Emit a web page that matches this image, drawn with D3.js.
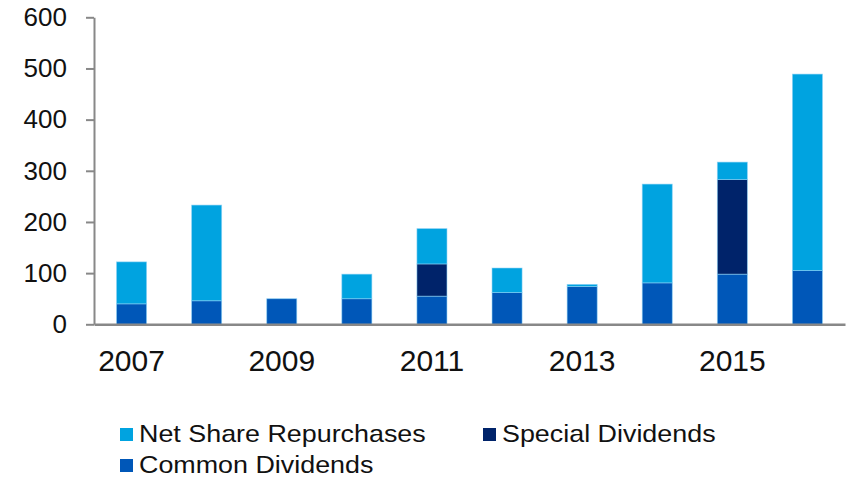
<!DOCTYPE html>
<html>
<head>
<meta charset="utf-8">
<script src="https://cdn.jsdelivr.net/npm/d3@7"></script>
<style>
  body { margin: 0; background: #fff; }
  svg { display: block; font-family: "Liberation Sans", Arial, sans-serif; }
</style>
</head>
<body>
<script>
const years = ["2007", "2008", "2009", "2010", "2011", "2012", "2013", "2014", "2015", "2016"]
const commonDividends = [40, 46, 50, 50, 55, 62, 74, 81, 98, 105]
const specialDividends = [0, 0, 0, 0, 63, 0, 0, 0, 185, 0]
const netRepurchases = [82, 187, 0, 48, 69, 48, 4, 193, 34, 384]
const yTicks = [0, 100, 200, 300, 400, 500, 600]
const xLabels = ["2007", "2009", "2011", "2013", "2015"]

const seriesNames = ["Common Dividends", "Special Dividends", "Net Share Repurchases"]
const colors = {
    "Common Dividends": "#0057b8",
    "Special Dividends": "#00236a",
    "Net Share Repurchases": "#00a3e0"
}

const width = 850, height = 480
const axisX = 94, plotRight = 845, plotTop = 17.3, plotBottom = 324.3

// table for the stack layout
const rows = years.map((y, i) => ({
    year: y,
    "Common Dividends": commonDividends[i],
    "Special Dividends": specialDividends[i],
    "Net Share Repurchases": netRepurchases[i]
}))
const stacked = d3.stack().keys(seriesNames)(rows)

const x = d3.scaleBand()
    .domain(years)
    .range([axisX, plotRight])
    .paddingInner(0.6)
    .paddingOuter(0.3)
const y = d3.scaleLinear()
    .domain([0, 600])
    .range([plotBottom, plotTop])

const svg = d3.select("body").append("svg")
    .attr("width", width)
    .attr("height", height)

svg.append("g")
    .selectAll("g")
    .data(stacked)
    .join("g")
    .attr("fill", d => colors[d.key])
    .selectAll("rect")
    .data(d => d.filter(s => s[1] - s[0] > 0))
    .join("rect")
    .attr("x", d => x(d.data.year))
    .attr("width", x.bandwidth())
    .attr("y", d => y(d[1]))
    .attr("height", d => y(d[0]) - y(d[1]))
    .attr("stroke", "rgba(140,210,245,0.7)")
    .attr("stroke-width", 0.8)

// y axis
const yAxis = svg.append("g")
    .attr("transform", `translate(${axisX},0)`)
    .call(d3.axisLeft(y).tickValues(yTicks).tickSize(8).tickPadding(19).tickSizeOuter(0))
yAxis.select(".domain").attr("stroke", "#888").attr("stroke-width", 2)
yAxis.selectAll(".tick line").attr("stroke", "#888").attr("stroke-width", 2)
yAxis.selectAll(".tick text")
    .attr("fill", "#111")
    .attr("font-size", 26)
    .attr("font-family", "Liberation Sans, Arial, sans-serif")

// x axis
const xAxis = svg.append("g")
    .attr("transform", `translate(0,${plotBottom})`)
    .call(d3.axisBottom(x).tickValues(xLabels).tickSize(0).tickPadding(25).tickSizeOuter(0))
xAxis.select(".domain").attr("stroke", "#888").attr("stroke-width", 2.5)
xAxis.selectAll(".tick text")
    .attr("fill", "#111")
    .attr("font-size", 30)
    .attr("font-family", "Liberation Sans, Arial, sans-serif")

// legend (text in the reference is a bit wide, so stretch it)
const legendItems = [
    {name: "Net Share Repurchases", x: 120, y: 428},
    {name: "Special Dividends", x: 483, y: 428},
    {name: "Common Dividends", x: 120, y: 459}
]
const legend = svg.append("g")
    .selectAll("g")
    .data(legendItems)
    .join("g")
    .attr("transform", d => `translate(${d.x},${d.y})`)
legend.append("rect")
    .attr("width", 13)
    .attr("height", 13)
    .attr("fill", d => colors[d.name])
legend.append("text")
    .attr("transform", "translate(19,14) scale(1.12,1)")
    .attr("font-size", 24)
    .attr("fill", "#111")
    .text(d => d.name)
</script>
</body>
</html>
